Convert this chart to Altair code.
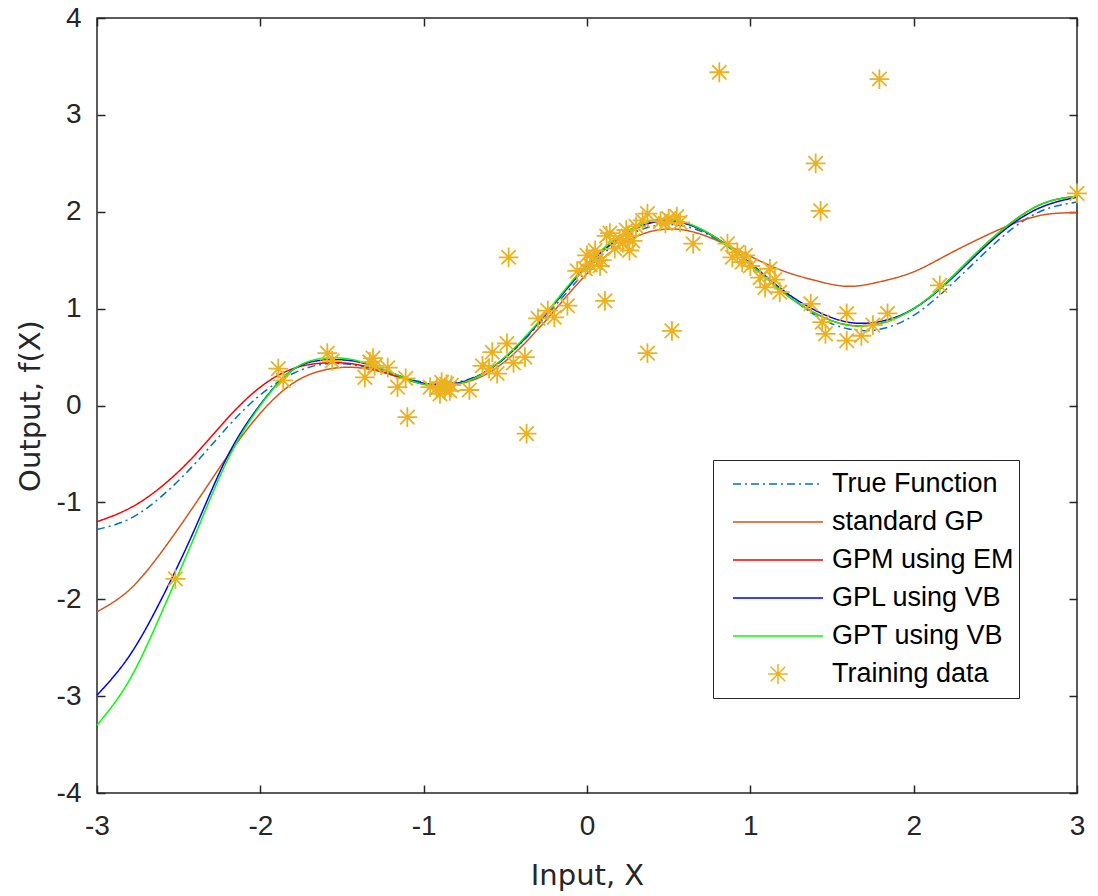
import altair as alt
import pandas as pd

# ---------------- data ----------------
x_grid = [-3.0, -2.8, -2.6, -2.4, -2.2, -2.0, -1.8, -1.6, -1.4, -1.2, -1.0,
          -0.8, -0.6, -0.4, -0.2, 0.0, 0.2, 0.4, 0.6, 0.8, 1.0,
          1.2, 1.4, 1.6, 1.8, 2.0, 2.2, 2.4, 2.6, 2.8, 3.0]

true_fn = [-1.28, -1.17, -0.93, -0.60, -0.22, 0.11, 0.33, 0.43, 0.41, 0.32, 0.24,
           0.24, 0.37, 0.65, 1.02, 1.40, 1.70, 1.85, 1.85, 1.71, 1.46,
           1.18, 0.93, 0.79, 0.79, 0.93, 1.20, 1.52, 1.82, 2.02, 2.10]

standard_gp = [-2.13, -1.90, -1.50, -1.02, -0.52, -0.08, 0.23, 0.37, 0.39, 0.32, 0.23,
               0.22, 0.34, 0.61, 0.98, 1.36, 1.65, 1.80, 1.81, 1.70, 1.54,
               1.39, 1.29, 1.23, 1.28, 1.38, 1.55, 1.72, 1.87, 1.97, 1.99]

gpm_em = [-1.20, -1.06, -0.83, -0.51, -0.13, 0.19, 0.38, 0.44, 0.42, 0.32, 0.22,
          0.22, 0.37, 0.66, 1.05, 1.44, 1.73, 1.89, 1.88, 1.72, 1.46,
          1.17, 0.95, 0.83, 0.85, 1.00, 1.27, 1.60, 1.89, 2.09, 2.16]

gpl_vb = [-2.99, -2.58, -1.98, -1.27, -0.52, 0.01, 0.37, 0.47, 0.45, 0.34, 0.23,
          0.23, 0.37, 0.66, 1.05, 1.44, 1.73, 1.89, 1.88, 1.72, 1.47,
          1.19, 0.98, 0.86, 0.87, 1.00, 1.26, 1.58, 1.87, 2.06, 2.15]

gpt_vb = [-3.30, -2.83, -2.12, -1.34, -0.56, 0.00, 0.37, 0.49, 0.46, 0.34, 0.22,
          0.22, 0.37, 0.67, 1.06, 1.46, 1.75, 1.91, 1.89, 1.72, 1.46,
          1.17, 0.95, 0.83, 0.85, 1.00, 1.27, 1.60, 1.89, 2.09, 2.16]

train_x = [-2.52, -1.89, -1.86, -1.59, -1.56, -1.33, -1.31, -1.30, -1.22, -1.36,
           -1.16, -1.11, -1.10, -0.96, -0.92, -0.89, -0.87, -0.90, -0.86, -0.83,
           -0.84, -0.72, -0.64, -0.60, -0.58, -0.49, -0.55, -0.45, -0.38, -0.48,
           -0.37, -0.30, -0.24, -0.20, -0.12, -0.06, -0.01, 0.00, 0.02, 0.04,
           0.05, 0.08, 0.09, 0.11, 0.12, 0.14, 0.17, 0.20, 0.22, 0.24,
           0.25, 0.26, 0.28, 0.30, 0.34, 0.37, 0.37, 0.45, 0.48, 0.50,
           0.52, 0.55, 0.57, 0.65, 0.81, 0.86, 0.89, 0.92, 0.95, 0.97,
           1.00, 1.06, 1.09, 1.12, 1.15, 1.18, 1.37, 1.40, 1.43, 1.44,
           1.46, 1.59, 1.59, 1.68, 1.75, 1.79, 1.84, 2.16, 3.00]

train_y = [-1.79, 0.38, 0.26, 0.54, 0.46, 0.45, 0.49, 0.41, 0.39, 0.29,
           0.19, 0.28, -0.12, 0.19, 0.18, 0.24, 0.16, 0.12, 0.22, 0.21,
           0.15, 0.16, 0.41, 0.38, 0.55, 0.64, 0.33, 0.44, 0.50, 1.53,
           -0.29, 0.90, 0.98, 0.91, 1.03, 1.39, 1.41, 1.55, 1.45, 1.53,
           1.60, 1.44, 1.50, 1.08, 1.75, 1.78, 1.62, 1.72, 1.68, 1.81,
           1.75, 1.60, 1.70, 1.85, 1.91, 1.98, 0.54, 1.90, 1.88, 1.93,
           0.77, 1.95, 1.89, 1.67, 3.44, 1.67, 1.53, 1.58, 1.48, 1.55,
           1.44, 1.32, 1.22, 1.41, 1.30, 1.17, 1.05, 2.50, 2.01, 0.86,
           0.74, 0.95, 0.67, 0.72, 0.83, 3.37, 0.95, 1.24, 2.19]

series_names = ["True Function", "standard GP", "GPM using EM",
                "GPL using VB", "GPT using VB", "Training data"]
series_colors = ["#0072BD", "#D95319", "#FF0000", "#0000FF", "#00FF00", "#EDB120"]
series_dashes = [[8, 4, 2, 4], [1, 0], [1, 0], [1, 0], [1, 0], [1, 0]]

x_ticks = [-3, -2, -1, 0, 1, 2, 3]
y_ticks = [-4, -3, -2, -1, 0, 1, 2, 3, 4]

# ---------------- tables ----------------
rows = []
for name, ys in zip(series_names[:5], [true_fn, standard_gp, gpm_em, gpl_vb, gpt_vb]):
    for xv, yv in zip(x_grid, ys):
        rows.append({"x": xv, "y": yv, "series": name})
lines_df = pd.DataFrame(rows)
pts_df = pd.DataFrame({"x": train_x, "y": train_y, "series": [series_names[5]] * len(train_x)})

TICK_FONT = "Liberation Sans"
TITLE_FONT = "DejaVu Sans"
INK = "#262626"
# asterisk ("*") marker, drawn in a small part of the unit box so that the same
# symbol size serves both the plot markers and the wide line swatches of the legend
ASTERISK = "M-0.22,0H0.22M0,-0.22V0.22M-0.16,-0.16L0.16,0.16M-0.16,0.16L0.16,-0.16"
series_shapes = ["stroke"] * 5 + [ASTERISK]
SYMBOL_SIZE = 8100
label_expr = "datum.value < 0 ? '-' + abs(datum.value) : '' + datum.value"

xscale = alt.Scale(domain=[-3, 3], nice=False, zero=False)
yscale = alt.Scale(domain=[-4, 4], nice=False, zero=False)

x_axis_main = alt.Axis(orient="bottom", values=x_ticks, tickSize=8, offset=-8, domain=False,
                       grid=False, labelExpr=label_expr, labelFont=TICK_FONT, labelFontSize=28,
                       labelColor=INK, labelPadding=19, labelFlush=False, labelOverlap=False,
                       tickColor=INK, tickWidth=1.5,
                       title="Input, X", titleFont=TITLE_FONT, titleFontSize=29,
                       titleFontWeight="normal", titleColor=INK, titlePadding=21)
y_axis_main = alt.Axis(orient="left", values=y_ticks, tickSize=8, offset=-8, domain=False,
                       grid=False, labelExpr=label_expr, labelFont=TICK_FONT, labelFontSize=28,
                       labelColor=INK, labelPadding=16, labelFlush=False, labelOverlap=False,
                       tickColor=INK, tickWidth=1.5,
                       title="Output, f(X)", titleFont=TITLE_FONT, titleFontSize=29,
                       titleFontWeight="normal", titleColor=INK, titlePadding=11)
x_axis_top = alt.Axis(orient="top", values=x_ticks, tickSize=8, offset=-8, domain=False,
                      grid=False, labels=False, title=None, tickColor=INK, tickWidth=1.5)
y_axis_right = alt.Axis(orient="right", values=y_ticks, tickSize=8, offset=-8, domain=False,
                        grid=False, labels=False, title=None, tickColor=INK, tickWidth=1.5)

legend = alt.Legend(
    title=None, orient="none", legendX=616, legendY=442,
    fillColor="white", strokeColor=INK, padding=5,
    symbolSize=SYMBOL_SIZE, symbolStrokeWidth=1.5, symbolOffset=14,
    labelFont=TICK_FONT, labelFontSize=27, labelColor="#000000", labelOffset=8,
    labelLimit=400, clipHeight=38, rowPadding=0,
)

color_scale = alt.Scale(domain=series_names, range=series_colors)

lines = alt.Chart(lines_df).mark_line(strokeWidth=1.5, interpolate="natural").encode(
    x=alt.X("x:Q", scale=xscale, axis=x_axis_main),
    y=alt.Y("y:Q", scale=yscale, axis=y_axis_main),
    color=alt.Color("series:N", scale=color_scale, legend=legend),
    strokeDash=alt.StrokeDash("series:N", scale=alt.Scale(domain=series_names, range=series_dashes),
                              legend=legend),
)

points = alt.Chart(pts_df).mark_point(size=SYMBOL_SIZE, filled=False,
                                      strokeWidth=1.8, opacity=1).encode(
    x=alt.X("x:Q", scale=xscale, axis=x_axis_top),
    y=alt.Y("y:Q", scale=yscale, axis=y_axis_right),
    color=alt.Color("series:N", scale=color_scale, legend=legend),
    shape=alt.Shape("series:N", scale=alt.Scale(domain=series_names, range=series_shapes),
                    legend=legend),
)

chart = alt.layer(lines, points).resolve_axis(x="independent", y="independent").properties(
    width=980, height=775,
    autosize=alt.AutoSizeParams(type="none"),
    padding={"left": 97, "top": 18, "right": 21, "bottom": 103},
    background="white",
).configure_view(stroke=INK, strokeWidth=1.5)

chart.save("out.html", embed_options={"renderer": "svg", "actions": False})
